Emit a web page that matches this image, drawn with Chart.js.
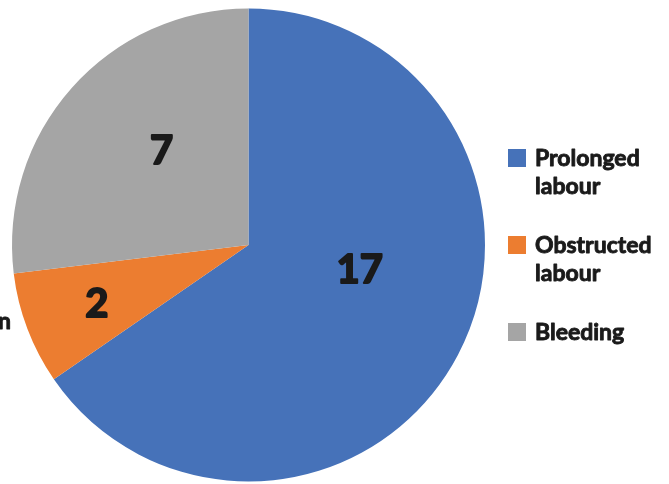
<!DOCTYPE html>
<html>
<head>
<meta charset="utf-8">
<script src="https://cdn.jsdelivr.net/npm/chart.js@4/dist/chart.umd.min.js"></script>
<style>
  html, body { margin: 0; padding: 0; background: #ffffff; }
  #wrap { width: 669px; height: 484px; position: relative; overflow: hidden; }
  canvas { filter: blur(0.6px); }
</style>
</head>
<body>
<div id="wrap"><canvas id="c" width="669" height="484"></canvas></div>
<script>
// Causes of complications
const categories = ['Prolonged labour', 'Obstructed labour', 'Bleeding'];
const counts = [17, 2, 7];
const sliceColors = ['#4672B9', '#EC7D30', '#A5A5A5'];

// where each value label sits inside its slice (fraction along the arc, fraction of radius)
const labelAlong = [0.432, 0.51, 0.565];
const labelRadius = [0.48, 0.685, 0.547];

const TEXT = '#1a1a1a';

// bold text with a thin outline in the same colour for a heavier stroke
function heavyText(ctx, txt, x, y, w) {
  ctx.lineWidth = w;
  ctx.lineJoin = 'round';
  ctx.strokeStyle = TEXT;
  ctx.strokeText(txt, x, y);
  ctx.fillText(txt, x, y);
}

const sliceLabels = {
  id: 'sliceLabels',
  afterDatasetsDraw(chart) {
    const ctx = chart.ctx;
    const meta = chart.getDatasetMeta(0);
    ctx.save();
    ctx.fillStyle = TEXT;
    ctx.font = 'bold 40px Lato, "DejaVu Sans", sans-serif';
    ctx.textAlign = 'center';
    ctx.textBaseline = 'middle';
    meta.data.forEach((arc, i) => {
      const p = arc.getProps(['x', 'y', 'startAngle', 'endAngle', 'outerRadius'], true);
      const a = p.startAngle + labelAlong[i] * (p.endAngle - p.startAngle);
      const r = p.outerRadius * labelRadius[i];
      heavyText(ctx, String(chart.data.datasets[0].data[i]), p.x + Math.cos(a) * r, p.y + Math.sin(a) * r + 2, 2);
    });
    ctx.restore();
  }
};

const sideLegend = {
  id: 'sideLegend',
  afterDraw(chart) {
    const ctx = chart.ctx;
    ctx.save();
    ctx.font = 'bold 23px Lato, "DejaVu Sans", sans-serif';
    ctx.textBaseline = 'middle';
    ctx.textAlign = 'left';
    const x0 = 508, box = 18, tx = 535;
    let y = 159;
    chart.data.labels.forEach((lab, i) => {
      const lines = lab.split(' ');
      ctx.fillStyle = sliceColors[i];
      ctx.fillRect(x0, y - box / 2 - 1, box, box);
      ctx.fillStyle = TEXT;
      lines.forEach((ln, k) => heavyText(ctx, ln, tx, y + k * 28, 0.9));
      y += 87;
    });
    // clipped caption at the left edge
    ctx.textAlign = 'right';
    heavyText(ctx, 'n', 11, 322, 0.9);
    ctx.restore();
  }
};

new Chart(document.getElementById('c'), {
  type: 'pie',
  data: {
    labels: categories,
    datasets: [{
      data: counts,
      backgroundColor: sliceColors,
      borderWidth: 0
    }]
  },
  options: {
    responsive: false,
    animation: false,
    layout: { padding: { left: 12, right: 184, top: 8, bottom: 2 } },
    plugins: {
      legend: { display: false },
      tooltip: { enabled: false }
    }
  },
  plugins: [sliceLabels, sideLegend]
});
</script>
</body>
</html>
